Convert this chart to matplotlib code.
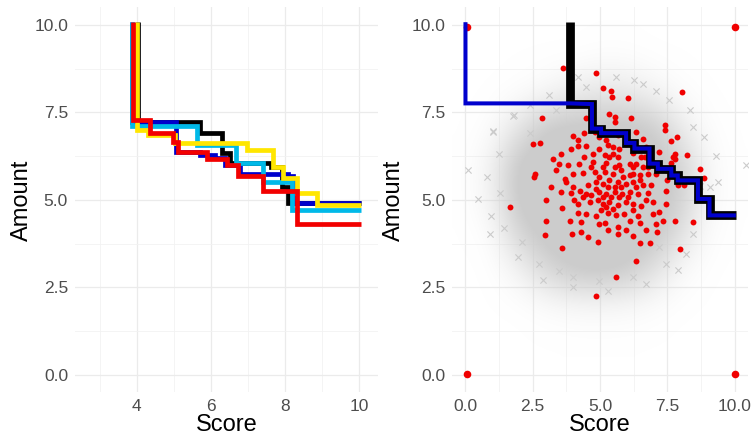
import numpy as np
import matplotlib.pyplot as plt
from matplotlib.colors import LinearSegmentedColormap

plt.rcParams['font.family'] = ['Liberation Sans', 'DejaVu Sans']

# -----------------------------
# 1. Data
# -----------------------------
# left panel: five step curves, x where the curve drops and the level after it
black_x = [4.04, 5.70, 6.29, 6.50, 7.62, 7.92, 8.08]
black_y = [7.24, 6.90, 6.34, 6.05, 5.95, 5.38, 4.90]
blue_x = [3.88, 5.05, 5.70, 6.11, 6.38, 6.78, 8.08, 8.20]
blue_y = [7.24, 6.38, 6.29, 6.19, 6.00, 5.74, 5.69, 4.90]
cyan_x = [3.86, 5.61, 6.67, 7.41, 8.18]
cyan_y = [7.12, 6.57, 6.05, 5.52, 4.71]
yellow_x = [3.99, 4.31, 5.03, 6.96, 7.68, 7.95, 8.32, 8.86]
yellow_y = [7.00, 6.86, 6.62, 6.43, 5.95, 5.62, 5.19, 4.86]
red_x = [3.90, 4.35, 4.98, 5.10, 5.88, 6.42, 6.73, 7.39, 8.32]
red_y = [7.29, 6.90, 6.67, 6.38, 6.17, 6.00, 5.69, 5.26, 4.30]
curve_top = 10.08
curve_end = 10.05

# right panel: frontier step line
front_x = [3.90, 4.70, 5.04, 5.97, 6.28, 6.84, 7.15, 7.65, 7.89, 8.64, 9.07]
front_y = [7.74, 7.04, 6.91, 6.63, 6.47, 6.04, 5.89, 5.70, 5.56, 5.03, 4.56]
front_end = 10.05
blue_start_x = 0.0
blue_start_y = 7.76

# right panel: corner points and the red observed points
corner_x = [0.05, 10.0, 0.05, 10.0]
corner_y = [9.95, 9.95, 0.04, 0.04]
pts_x = [3.62, 4.86, 5.13, 5.41, 5.45, 6.05, 8.05, 2.85, 5.35, 5.54, 4.49, 5.54,
         6.15, 7.40, 7.42, 4.82, 4.42, 3.99, 6.59, 7.87, 2.52, 2.76, 4.18, 4.49,
         4.18, 5.29, 5.47, 4.98, 5.72, 7.65, 6.72, 7.77, 8.23, 7.71, 3.25, 3.56,
         4.73, 5.20, 5.47, 5.67, 6.67, 3.80, 3.49, 4.21, 4.73, 5.23, 5.72, 6.10,
         6.22, 6.59, 6.96, 7.65, 7.77, 2.57, 2.53, 3.71, 4.36, 4.80, 5.17, 5.48,
         5.79, 6.22, 6.47, 6.78, 7.46, 7.50, 7.89, 8.14, 8.85, 3.74, 3.99, 4.55,
         4.86, 5.11, 5.35, 5.66, 5.97, 6.22, 6.59, 6.90, 3.56, 3.93, 4.24, 4.49,
         4.67, 4.98, 5.23, 5.54, 5.82, 6.10, 6.41, 6.78, 7.44, 1.64, 3.59, 4.05,
         4.18, 4.61, 4.92, 5.11, 5.35, 5.66, 5.97, 6.22, 6.53, 7.44, 3.00, 3.87,
         4.18, 4.49, 4.86, 5.29, 5.60, 5.91, 6.10, 6.41, 6.96, 7.21, 7.77, 8.45,
         2.97, 3.95, 4.30, 4.98, 5.17, 5.29, 5.66, 6.47, 7.09, 7.34, 7.13, 4.55,
         4.92, 6.22, 6.47, 6.86, 3.59, 7.98, 6.32, 5.60, 4.86, 5.35, 5.11, 5.54,
         5.85, 6.10, 4.98, 5.29, 5.54, 5.79, 4.86, 6.35, 6.47, 6.78, 6.35, 5.72,
         5.41, 6.03, 5.11, 4.36, 6.22, 5.48, 5.04, 6.72, 6.96, 7.09, 7.21, 6.22,
         5.97, 5.23, 4.98, 5.66, 4.68, 6.35, 3.93, 3.37, 3.18, 3.00, 4.30, 5.66,
         5.97, 6.72, 8.70, 7.89, 4.67, 4.42, 3.99, 5.23, 6.53]
pts_y = [8.76, 8.63, 8.19, 8.12, 7.95, 7.90, 8.09, 7.34, 7.47, 7.37, 7.33, 7.23,
         7.34, 7.13, 6.99, 6.94, 6.90, 6.82, 6.75, 6.80, 6.61, 6.63, 6.70, 6.54,
         6.54, 6.56, 6.51, 6.47, 6.45, 6.68, 6.51, 6.32, 6.28, 6.23, 6.16, 6.32,
         6.32, 6.28, 6.30, 6.23, 6.23, 5.99, 6.04, 6.04, 6.08, 6.06, 5.99, 6.04,
         5.94, 5.94, 6.04, 6.06, 6.18, 5.75, 5.67, 5.61, 5.77, 5.80, 5.80, 5.75,
         5.85, 5.75, 5.70, 5.75, 5.85, 5.56, 5.42, 5.42, 5.63, 5.51, 5.37, 5.42,
         5.51, 5.46, 5.56, 5.51, 5.46, 5.51, 5.42, 5.42, 5.22, 5.20, 5.25, 5.18,
         5.13, 5.22, 5.18, 5.22, 5.18, 5.22, 5.18, 5.20, 5.27, 4.79, 4.77, 5.00,
         4.89, 4.94, 4.99, 4.89, 4.94, 4.87, 4.94, 4.89, 4.84, 4.89, 4.41, 4.41,
         4.63, 4.60, 4.53, 4.62, 4.56, 4.60, 4.41, 4.53, 4.60, 4.65, 4.41, 4.36,
         4.00, 4.03, 4.08, 4.32, 4.34, 4.15, 4.22, 4.35, 4.30, 4.41, 4.08, 3.94,
         3.79, 3.98, 3.76, 3.76, 3.63, 3.60, 3.27, 2.81, 2.27, 6.23, 5.94, 5.94,
         5.66, 5.70, 5.66, 5.37, 5.37, 5.37, 5.32, 5.37, 5.56, 5.94, 6.04, 5.08,
         5.08, 5.08, 5.08, 5.08, 4.70, 4.75, 4.70, 5.00, 4.94, 5.75, 6.37, 6.33,
         6.61, 6.70, 6.80, 6.85, 6.99, 6.94, 6.47, 5.85, 5.37, 5.00, 4.36, 4.03,
         4.13, 4.13, 5.89, 5.61, 5.94, 6.23, 5.75, 4.80, 6.23]

# right panel: density of the grey simulated cloud (0 = none, 1 = solid)
cloud_x = [0, 1, 2, 3, 4, 5, 6, 7, 8, 9, 10]
cloud_y = [1, 2, 3, 4, 5, 6, 7, 8, 9, 10]
cloud_level = [
    [0, 0, 0, 0, 0, 0, 0, 0, 0, 0, 0],
    [0, 0, 0, 0.05, 0.1, 0.12, 0.1, 0.04, 0, 0, 0],
    [0, 0, 0.2, 0.65, 0.95, 1, 0.9, 0.5, 0.1, 0, 0],
    [0, 0.04, 0.7, 1, 1, 1, 1, 1, 0.5, 0.04, 0],
    [0, 0.2, 1, 1, 1, 1, 1, 1, 0.8, 0.12, 0],
    [0, 0.2, 1, 1, 1, 1, 1, 1, 0.75, 0.12, 0],
    [0, 0.04, 0.45, 0.95, 1, 1, 1, 0.9, 0.35, 0.03, 0],
    [0, 0, 0.03, 0.12, 0.3, 0.42, 0.38, 0.2, 0.04, 0, 0],
    [0, 0, 0, 0, 0, 0.03, 0.03, 0, 0, 0, 0],
    [0, 0, 0, 0, 0, 0, 0, 0, 0, 0, 0],
]
# scattered grey crosses at the edge of the cloud
sim_x = [0.09, 0.46, 0.95, 0.92, 1.02, 0.79, 1.95, 1.76, 1.26, 2.75, 3.49, 3.99,
         4.98, 6.22, 7.46, 6.28, 7.58, 8.88, 9.32, 10.43, 8.33, 8.45, 8.20, 5.60,
         4.49, 3.37, 2.38, 8.45, 9.07, 9.07, 7.21, 1.82, 1.02, 1.30, 1.45, 2.10,
         2.40, 3.10, 4.20, 5.30, 6.70, 7.90, 8.70, 9.40, 2.90, 4.00, 6.60, 7.10]
sim_y = [5.85, 5.03, 4.53, 4.03, 6.97, 5.65, 3.36, 7.39, 6.32, 3.17, 2.98, 2.79,
         2.69, 2.79, 3.17, 8.42, 7.85, 6.80, 6.27, 5.99, 7.56, 4.03, 3.46, 8.52,
         8.23, 7.56, 6.90, 7.09, 5.37, 4.79, 3.65, 7.42, 6.94, 5.20, 4.20, 3.80,
         7.70, 8.00, 8.50, 2.40, 2.60, 3.00, 5.40, 5.50, 2.70, 2.50, 8.30, 8.10]

y_ticks = [0, 2.5, 5, 7.5, 10]
y_labels = ["0.0", "2.5", "5.0", "7.5", "10.0"]
left_xticks = [4, 6, 8, 10]
right_xticks = [0, 2.5, 5, 7.5, 10]
right_xlabels = ["0.0", "2.5", "5.0", "7.5", "10.0"]


def step_path(xs, ys, top, x_end):
    px, py = [xs[0]], [top]
    for i in range(len(xs)):
        nxt = xs[i + 1] if i + 1 < len(xs) else x_end
        px += [xs[i], nxt]
        py += [ys[i], ys[i]]
    return px, py


def style_axes(ax):
    ax.set_facecolor("white")
    for s in ax.spines.values():
        s.set_visible(False)
    ax.grid(True, which="major", color="#EBEBEB", linewidth=0.9)
    ax.grid(True, which="minor", color="#F2F2F2", linewidth=0.6)
    ax.set_axisbelow(True)
    ax.tick_params(which="both", length=0, labelsize=12.5, colors="#4D4D4D", pad=5)
    ax.set_ylim(-0.5, 10.5)
    ax.set_yticks(y_ticks)
    ax.set_yticklabels(y_labels)
    ax.set_yticks([1.25, 3.75, 6.25, 8.75], minor=True)
    ax.set_ylabel("Amount", fontsize=17, color="black")
    ax.set_xlabel("Score", fontsize=17, color="black")


# -----------------------------
# 2. Figure
# -----------------------------
fig = plt.figure(figsize=(7.55, 4.38), dpi=100)
ax1 = fig.add_axes([0.0993, 0.1039, 0.4013, 0.879])
ax2 = fig.add_axes([0.5987, 0.1039, 0.392, 0.879])

# --- left panel ---
style_axes(ax1)
ax1.set_xlim(2.33, 10.5)
ax1.set_xticks(left_xticks)
ax1.set_xticks([3, 5, 7, 9], minor=True)

curves = [(black_x, black_y, "black"),
          (blue_x, blue_y, "#0000CC"),
          (cyan_x, cyan_y, "#00B9E8"),
          (yellow_x, yellow_y, "#FFE600"),
          (red_x, red_y, "#F20000")]
for xs, ys, col in curves:
    px, py = step_path(xs, ys, curve_top, curve_end)
    ax1.plot(px, py, color=col, linewidth=3.4,
             solid_joinstyle="miter", solid_capstyle="butt")

# --- right panel ---
style_axes(ax2)
ax2.set_xticks(right_xticks)
ax2.set_xticklabels(right_xlabels)
ax2.set_xticks([1.25, 3.75, 6.25, 8.75], minor=True)

cloud_cmap = LinearSegmentedColormap.from_list(
    "cloud", [(0.8, 0.8, 0.8, 0.0), (0.8, 0.8, 0.8, 1.0)])
ax2.imshow(np.array(cloud_level), cmap=cloud_cmap, vmin=0, vmax=0.85,
           origin="lower", interpolation="bicubic", aspect="auto",
           extent=[cloud_x[0] - 0.5, cloud_x[-1] + 0.5,
                   cloud_y[0] - 0.5, cloud_y[-1] + 0.5], zorder=1)
ax2.scatter(sim_x, sim_y, marker="x", s=20, color="#CBCBCB",
            linewidths=0.8, zorder=1.5)
ax2.set_xlim(-0.5, 10.5)
ax2.set_ylim(-0.5, 10.5)

ax2.scatter(pts_x, pts_y, s=18, color="#F00000", linewidths=0, zorder=2)
ax2.scatter(corner_x, corner_y, s=30, color="#F00000", linewidths=0, zorder=2)

fx, fy = step_path(front_x, front_y, curve_top, front_end)
ax2.plot(fx, fy, color="black", linewidth=6.3,
         solid_joinstyle="miter", solid_capstyle="butt", zorder=3)
bx = [blue_start_x, blue_start_x, front_x[0]] + fx[2:]
by = [curve_top, blue_start_y, blue_start_y] + fy[2:]
ax2.plot(bx, by, color="#0000CD", linewidth=2.9,
         solid_joinstyle="miter", solid_capstyle="butt", zorder=4)

for ax, lx in ((ax1, -0.14), (ax2, -0.16)):
    ax.yaxis.set_label_coords(lx, 0.5)
    ax.xaxis.set_label_coords(0.5, -0.055)

fig.savefig("out.png", dpi=100, facecolor="white")
